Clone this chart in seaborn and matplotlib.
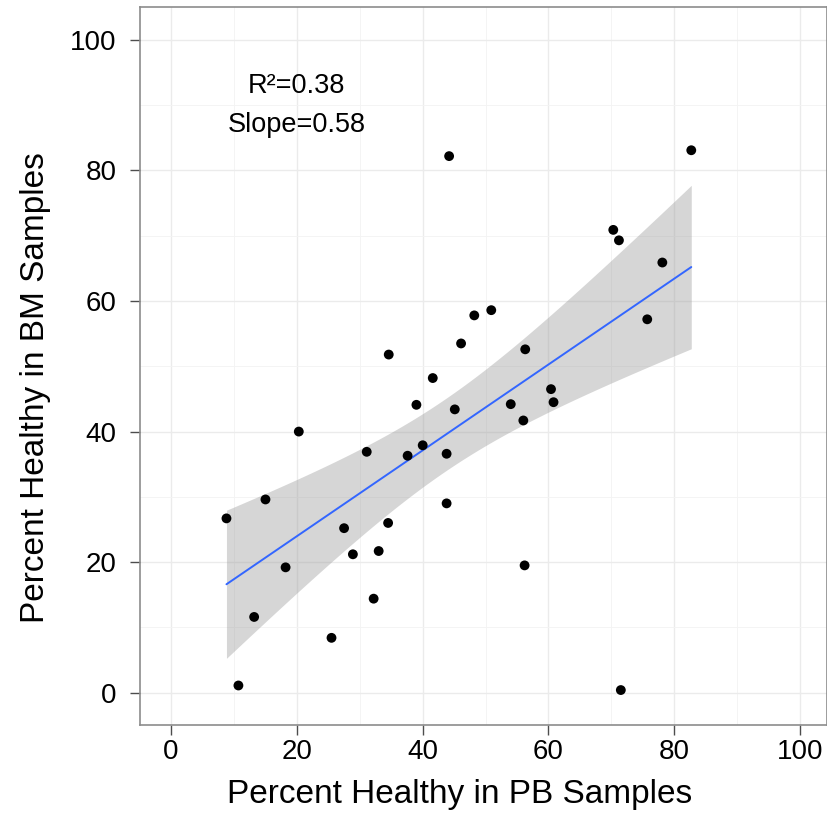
import numpy as np
import pandas as pd
import seaborn as sns
import matplotlib
matplotlib.use('Agg')
import matplotlib.pyplot as plt
from matplotlib.ticker import MultipleLocator

# percent healthy
pb = [44.2, 82.7, 70.3, 71.2, 78.1, 75.7, 48.2, 50.9, 46.1, 34.6,
      56.3, 41.6, 60.4, 60.8, 39.0, 54.0, 45.1, 56.0, 20.3, 31.1,
      37.6, 40.0, 43.8, 15.0, 8.8, 43.8, 27.5, 34.5, 28.9, 33.0,
      18.2, 56.2, 32.2, 13.2, 25.5, 10.7, 71.5]
bm = [82.2, 83.1, 70.9, 69.3, 65.9, 57.2, 57.8, 58.6, 53.5, 51.8,
      52.6, 48.2, 46.5, 44.5, 44.1, 44.2, 43.4, 41.7, 40.0, 36.9,
      36.3, 37.9, 36.6, 29.6, 26.7, 29.0, 25.2, 26.0, 21.2, 21.7,
      19.2, 19.5, 14.4, 11.6, 8.4, 1.1, 0.4]
stat_labels = ['R\u00b2=0.38', 'Slope=0.58']

df = pd.DataFrame({'pb': pb, 'bm': bm})

sns.set_style('whitegrid')
plt.rcParams['font.family'] = ['Liberation Sans', 'DejaVu Sans']
plt.rcParams['text.color'] = 'black'
plt.rcParams['axes.labelcolor'] = 'black'

fig = plt.figure(figsize=(8.27, 8.17), dpi=100)
ax = fig.add_axes([140.3 / 827, 1 - 725.3 / 817, (826.5 - 140.3) / 827, (725.3 - 7.3) / 817])

# 95% confidence band of the linear fit (analytic, like geom_smooth)
x = df['pb'].values
y = df['bm'].values
n = len(x)
b1, b0 = np.polyfit(x, y, 1)
resid = y - (b0 + b1 * x)
s = np.sqrt(np.sum(resid ** 2) / (n - 2))
xs = np.linspace(x.min(), x.max(), 100)
se = s * np.sqrt(1 / n + (xs - x.mean()) ** 2 / np.sum((x - x.mean()) ** 2))
tval = 2.0301  # t(0.975, 35)
ax.fill_between(xs, b0 + b1 * xs - tval * se, b0 + b1 * xs + tval * se,
                color='#999999', alpha=0.4, linewidth=0, zorder=2)

sns.regplot(data=df, x='pb', y='bm', ax=ax, ci=None, scatter=False,
            line_kws={'color': '#3366FF', 'linewidth': 1.4, 'zorder': 3})
sns.scatterplot(data=df, x='pb', y='bm', ax=ax, color='black', s=50,
                edgecolor='none', zorder=4)

ax.text(20, 93, stat_labels[0], ha='center', va='center', fontsize=19.5)
ax.text(20, 87, stat_labels[1], ha='center', va='center', fontsize=19.5)

ax.set_xlim(-4.9, 104.2)
ax.set_ylim(-5, 105)
ax.xaxis.set_major_locator(MultipleLocator(20))
ax.yaxis.set_major_locator(MultipleLocator(20))
ax.xaxis.set_minor_locator(MultipleLocator(10))
ax.yaxis.set_minor_locator(MultipleLocator(10))
ax.grid(which='major', color='#EBEBEB', linewidth=1.0)
ax.grid(which='minor', color='#F3F3F3', linewidth=0.6)
ax.set_axisbelow(True)
for sp in ax.spines.values():
    sp.set_color('#8C8C8C')
    sp.set_linewidth(1.2)

ax.tick_params(axis='both', which='major', direction='out', length=7, width=1,
               color='#4D4D4D', labelsize=20, labelcolor='black',
               bottom=True, left=True)
ax.tick_params(axis='x', which='major', pad=3)
ax.tick_params(axis='y', which='major', pad=10)
ax.tick_params(axis='both', which='minor', length=0)

ax.set_xlabel('Percent Healthy in PB Samples', fontsize=24, va='center')
ax.set_ylabel('Percent Healthy in BM Samples', fontsize=24, va='center')
ax.xaxis.set_label_coords(0.466, -0.097)
ax.yaxis.set_label_coords(-0.153, 0.47)

fig.savefig('out.png', dpi=100)
